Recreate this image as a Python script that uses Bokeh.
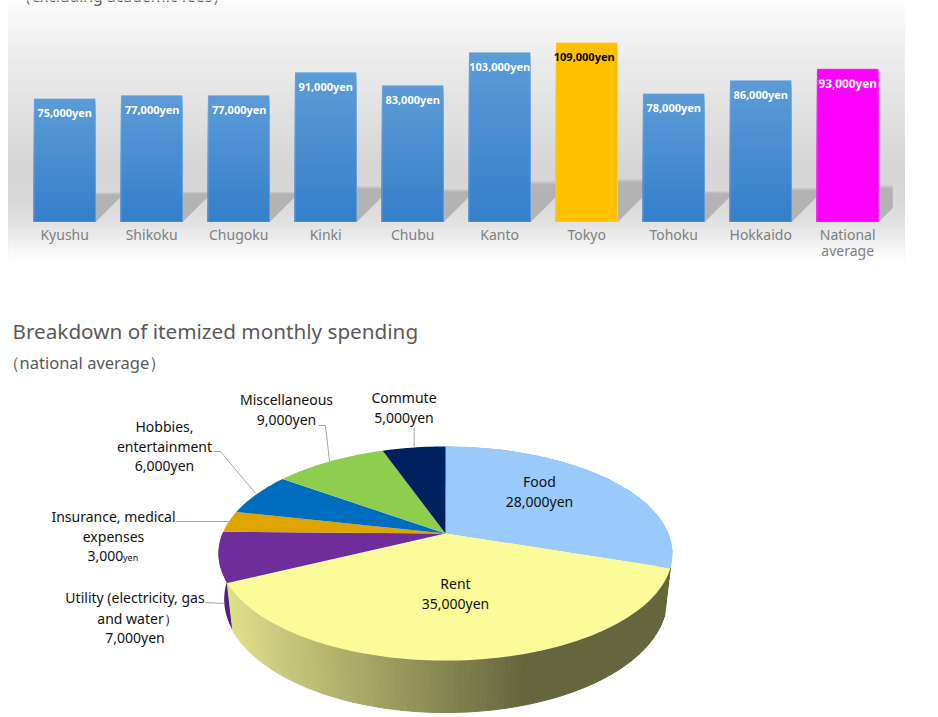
import math
from bokeh.embed import file_html
from bokeh.resources import INLINE
from bokeh.core.properties import value
from bokeh.layouts import column
from bokeh.models import Range1d, FixedTicker
from bokeh.plotting import figure

# ---- data -----
regions = ["Kyushu", "Shikoku", "Chugoku", "Kinki", "Chubu", "Kanto", "Tokyo", "Tohoku", "Hokkaido", "National\naverage"]
region_values = [75000, 77000, 77000, 91000, 83000, 103000, 109000, 78000, 86000, 93000]
region_labels = ["75,000yen", "77,000yen", "77,000yen", "91,000yen", "83,000yen", "103,000yen", "109,000yen", "78,000yen", "86,000yen", "93,000yen"]

spend_names = ["Food", "Rent", "Utility", "Insurance", "Hobbies", "Miscellaneous", "Commute"]
spend_values = [28000, 35000, 7000, 3000, 6000, 9000, 5000]
spend_colors = ["#99caFB", "#FBFB99", "#6F2D9B", "#E0A400", "#006EBF", "#8FCD4E", "#002060"]

FONT = "Noto Sans"
PXY = 1.648 / 1000   # px per yen
PXX = 87.0           # px per category
BASE = 221.6
W, H1, H2 = 938, 276, 441


def lerp(a, b, t):
    return tuple(a[i] + (b[i] - a[i]) * t for i in range(3))


def hx(c):
    return "#%02x%02x%02x" % tuple(int(round(v)) for v in c)


# ---- top chart ----
xs_px = lambda px: (px - 64.2) / PXX
ys_px = lambda py: (BASE - py) / PXY
p1 = figure(width=W, height=H1, output_backend="svg", toolbar_location=None,
            x_range=Range1d(xs_px(0), xs_px(W)), y_range=Range1d(ys_px(H1), ys_px(0)),
            min_border=0, outline_line_color=None, background_fill_color="white",
            border_fill_color="white")
p1.grid.visible = False
p1.yaxis.visible = False
ax = p1.xaxis[0]
ax.fixed_location = 0
ax.ticker = FixedTicker(ticks=list(range(len(regions))))
ax.major_label_overrides = {i: r for i, r in enumerate(regions)}
ax.axis_line_color = None
ax.major_tick_line_color = None
ax.minor_tick_line_color = None
ax.major_label_text_font = FONT
ax.major_label_text_font_size = "14px"
ax.major_label_text_color = "#7f7f7f"
ax.major_label_standoff = -3
ax.major_label_text_line_height = 0.85

# panel gradient (painter's order, each band reaching the bottom)
stops = [(0, (251, 251, 251)), (20, (246, 246, 246)), (60, (235, 235, 235)), (120, (223, 223, 223)), (170, (213, 213, 213)),
         (200, (217, 217, 217)), (222, (226, 226, 226)), (240, (240, 240, 240)), (252, (250, 250, 250)), (263, (255, 255, 255))]
for py in range(0, 263, 3):
    for (a, ca), (b, cb) in zip(stops, stops[1:]):
        if a <= py <= b:
            col = lerp(ca, cb, (py - a) / (b - a))
            break
    p1.quad(left=xs_px(8), right=xs_px(904), top=ys_px(py), bottom=ys_px(263), fill_color=hx(col), line_color=None)

# cast shadows
half = 30.75 / PXX
clip = xs_px(892)
for factor, shade in [(1.05, "#cdcdcd"), (1.02, "#c2c2c2"), (0.99, "#b9b9b9"), (0.96, "#b3b3b3")]:
    sx, sy = [], []
    for i, v in enumerate(region_values):
        h = 0.23 * v * factor
        dx = h * PXY / PXX
        xl, xr = i - half, i + half
        if xr + dx > clip:
            t = (clip - xr) / dx
            sx.append([xl, xr, clip, clip, xl + dx])
            sy.append([0, 0, h * t, h, h])
        else:
            sx.append([xl, xr, xr + dx, xl + dx])
            sy.append([0, 0, h, h])
    p1.patches(sx, sy, fill_color=shade, line_color=None)

# bars, stacked top-down for the gradient
x = list(range(len(regions)))
N = 45
top_c, bot_c = (92, 155, 214), (51, 127, 203)
for k in range(N):
    f = 1 - k / N
    cols = []
    for r in regions:
        if r == "Tokyo":
            cols.append("#ffc000")
        elif r.startswith("National"):
            cols.append("#ff00ff")
        else:
            cols.append(hx(lerp(bot_c, top_c, f)))
    p1.vbar(x=x, top=[v * f for v in region_values], bottom=0, width=61.5 / PXX, fill_color=cols, line_color=None)
p1.vbar(x=x, top=region_values, bottom=0, width=61.5 / PXX, fill_color=None, line_color="white", line_alpha=0.22, line_width=1)

nudges = [0, 0.5, 0.5, 0, 0, 0, -2.5, 0, 0, 0]
lab_colors = ["#000000" if r == "Tokyo" else "#ffffff" for r in regions]
lab_sizes = ["11.8px" if r.startswith("National") else "11px" for r in regions]
p1.text(x=[i + n / PXX for i, n in enumerate(nudges)], y=region_values, text=region_labels, x_offset=0, y_offset=14,
        text_align="center", text_baseline="middle", text_color=lab_colors, text_font_size=lab_sizes,
        text_font=value(FONT), text_font_style="bold")
p1.text(x=[xs_px(15)], y=[ys_px(-5)], text=["（excluding academic fees）"], text_align="left", text_baseline="alphabetic",
        text_color="#595959", text_font_size="15.8px", text_font=value(FONT))

# ---- pie ----
p2 = figure(width=W, height=H2, output_backend="svg", toolbar_location=None,
            x_range=Range1d(0, W), y_range=Range1d(H1 + H2, H1), min_border=0, outline_line_color=None,
            background_fill_color="white", border_fill_color="white")
p2.axis.visible = False
p2.grid.visible = False

CX, CY = 445.0, 533.0
FX, FY, K = 223.0, 103.3, 0.187


def proj(theta):
    X, Y = math.sin(theta), math.cos(theta)
    d = 1 + K * Y
    return CX + FX * X / d, CY - FY * Y / d


def low(theta):
    px, py = proj(theta)
    return CX + 0.975 * (px - CX), 577.6 + 1.058 * (py - CY)


total = sum(spend_values)
edges = [0.0]
for v in spend_values:
    edges.append(edges[-1] + v / total * 2 * math.pi)

# rim of Utility (darker) then Rent with a horizontal shading
t0, t1 = edges[2], edges[3]
th = [t0 + (t1 - t0) * i / 30 for i in range(31)]
rx = [proj(t)[0] for t in th] + [low(t)[0] for t in reversed(th)]
ry = [proj(t)[1] for t in th] + [low(t)[1] for t in reversed(th)]
p2.patch(rx, ry, fill_color="#512378", line_color=None)
t0, t1 = edges[0], edges[1]
th = [t0 + (t1 - t0) * i / 12 for i in range(13)]
rx = [proj(t)[0] for t in th] + [low(t)[0] for t in reversed(th)]
ry = [proj(t)[1] for t in th] + [low(t)[1] for t in reversed(th)]
p2.patch(rx, ry, fill_color="#6b88a8", line_color=None)

t0, t1 = edges[1], edges[2]
M = 110
sx, sy, sc = [], [], []
light, dark = (222, 222, 138), (102, 102, 62)
for i in range(M):
    a, b = t0 + (t1 - t0) * i / M, t0 + (t1 - t0) * (i + 1) / M
    A, B, C, D = proj(a), proj(b), low(b), low(a)
    sx.append([A[0], B[0], C[0], D[0]])
    sy.append([A[1], B[1], C[1], D[1]])
    g = min(1.0, max(0.0, (A[0] - 230) / (525 - 230)))
    sc.append(hx(lerp(light, dark, g)))
p2.patches(sx, sy, fill_color=sc, line_color=sc, line_width=1)

# top faces
for i, c in enumerate(spend_colors):
    t0, t1 = edges[i], edges[i + 1]
    n = max(4, int((t1 - t0) * 40))
    pts = [(CX, CY)] + [proj(t0 + (t1 - t0) * j / n) for j in range(n + 1)]
    p2.patch([q[0] for q in pts], [q[1] for q in pts], fill_color=c, line_color=None)

# leader lines
for lx, ly in [([318, 325, 329], [425, 425, 461]), ([413.7, 413.7], [427, 447]), ([213, 220, 256], [451, 451, 494]),
               ([176, 228], [521, 521]), ([205, 224], [602, 603])]:
    p2.line(lx, ly, line_color="#a6a6a6", line_width=1)

# texts
pie_texts = [("Food", 539, 481), ("28,000yen", 539, 501), ("Rent", 455, 583), ("35,000yen", 455, 603),
             ("Commute", 403.5, 397), ("5,000yen", 403.5, 417), ("Miscellaneous", 286, 399), ("9,000yen", 286, 419),
             ("Hobbies,", 164, 426), ("entertainment", 164, 446), ("6,000yen", 164, 465),
             ("Insurance, medical", 113, 516), ("expenses", 113, 536),
             ("Utility (electricity, gas", 134.5, 597), ("and water）", 137, 618), ("7,000yen", 134.5, 637)]
p2.text([t[1] for t in pie_texts], [t[2] for t in pie_texts], text=[t[0] for t in pie_texts], text_align="center",
        text_baseline="middle", text_color="#111111", text_font_size="14px", text_font=value(FONT))
p2.text([87], [555], text=["3,000"], text_align="left", text_baseline="middle", text_color="#111111",
        text_font_size="14px", text_font=value(FONT))
p2.text([122.5], [556.5], text=["yen"], text_align="left", text_baseline="middle", text_color="#111111",
        text_font_size="9px", text_font=value(FONT))
p2.text([12], [330], text=["Breakdown of itemized monthly spending"], text_align="left", text_baseline="middle",
        text_color="#595959", text_font_size="20.7px", text_font=value(FONT))
p2.text([2], [362], text=["（national average）"], text_align="left", text_baseline="middle",
        text_color="#595959", text_font_size="16.5px", text_font=value(FONT))

page = column(p1, p2, spacing=0, width=W, height=H1 + H2)
open("out.html", "w").write(file_html(page, INLINE))
